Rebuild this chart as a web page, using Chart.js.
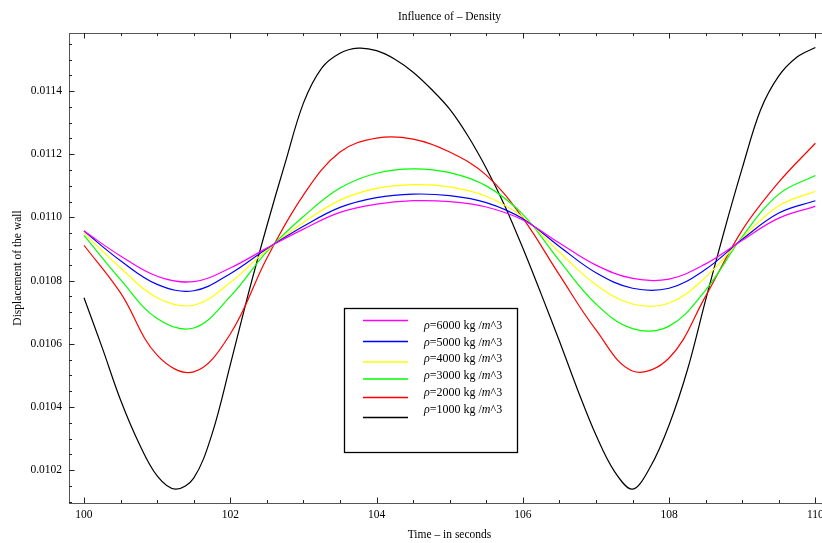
<!DOCTYPE html>
<html>
<head>
<meta charset="utf-8">
<script src="https://cdn.jsdelivr.net/npm/chart.js@4.4.1/dist/chart.umd.min.js"></script>
<style>
  html, body { margin: 0; padding: 0; background: #fff; overflow: hidden; }
  #wrap { position: relative; width: 845px; height: 543px; }
</style>
</head>
<body>
<div id="wrap"><canvas id="densityChart"></canvas></div>
<script>
// --- Dados ---
const tMain = [100, 100.5, 101, 101.5, 102, 102.5, 103, 103.5, 104, 104.5, 105,
               105.5, 106, 106.5, 107, 107.5, 108, 108.5, 109, 109.5, 110];
const tBlack = [100, 100.25, 100.5, 100.75, 101, 101.25, 101.5, 101.75, 102, 102.25,
                102.5, 102.75, 103, 103.25, 103.5, 103.75, 104, 104.25, 104.5, 104.75,
                105, 105.25, 105.5, 105.75, 106, 106.25, 106.5, 106.75, 107, 107.25,
                107.5, 107.75, 108, 108.25, 108.5, 108.75, 109, 109.25, 109.5, 109.75, 110];

const rho6000 = [0.010957, 0.010878, 0.010814, 0.010797, 0.010840, 0.010903, 0.010963, 0.011016, 0.011042, 0.011053, 0.011050,
                 0.011033, 0.010992, 0.010919, 0.010849, 0.010807, 0.010805, 0.010853, 0.010928, 0.010998, 0.011035];
const rho5000 = [0.010957, 0.010863, 0.010788, 0.010768, 0.010822, 0.010901, 0.010972, 0.011032, 0.011063, 0.011074, 0.011069,
                 0.011047, 0.010996, 0.010908, 0.010825, 0.010776, 0.010776, 0.010836, 0.010931, 0.011014, 0.011053];
const rho4000 = [0.010951, 0.010840, 0.010746, 0.010722, 0.010794, 0.010897, 0.010984, 0.011055, 0.011092, 0.011104, 0.011097,
                 0.011067, 0.011001, 0.010890, 0.010787, 0.010726, 0.010729, 0.010811, 0.010934, 0.011037, 0.011083];
const rho3000 = [0.010943, 0.010803, 0.010680, 0.010650, 0.010750, 0.010892, 0.011003, 0.011093, 0.011140, 0.011154, 0.011142,
                 0.011100, 0.011010, 0.010863, 0.010726, 0.010648, 0.010656, 0.010770, 0.010939, 0.011074, 0.011133];
const rho2000 = [0.010912, 0.010761, 0.010564, 0.010511, 0.010631, 0.010871, 0.011071, 0.011207, 0.011251, 0.011248, 0.011207,
                 0.011134, 0.010998, 0.010818, 0.010644, 0.010514, 0.010555, 0.010751, 0.010960, 0.011112, 0.011235];
const rho1000 = [0.010746, 0.010587, 0.010422, 0.010286, 0.010182, 0.010140, 0.010175, 0.010314, 0.010533, 0.010761,
                 0.010973, 0.011172, 0.011362, 0.011473, 0.011520, 0.011536, 0.011528, 0.011501, 0.011460, 0.011406,
                 0.011343, 0.011258, 0.011156, 0.011039, 0.010903, 0.010758, 0.010609, 0.010454, 0.010311, 0.010197,
                 0.010140, 0.010213, 0.010343, 0.010517, 0.010739, 0.010954, 0.011156, 0.011340, 0.011448, 0.011508, 0.011538];

const densities = [6000, 5000, 4000, 3000, 2000, 1000];
const colors = ['#ff00ff', '#0000ff', '#ffff00', '#00ff00', '#ff0000', '#000000'];

const xTicks = [100, 102, 104, 106, 108, 110];
const yTicks = [0.0102, 0.0104, 0.0106, 0.0108, 0.0110, 0.0112, 0.0114];
const X_MINOR = 0.5;
const Y_MINOR = 0.00005;

const FONT = 'Liberation Serif, Times New Roman, serif';

function pts(ts, vs) {
    return ts.map((t, i) => ({ x: t, y: vs[i] }));
}

// --- Moldura com ticks para dentro (estilo Mathematica) ---
const frameTicks = {
    id: 'frameTicks',
    afterDatasetsDraw(chart) {
        const { ctx, chartArea: a, scales: { x, y } } = chart;
        ctx.save();
        ctx.strokeStyle = '#555';
        ctx.lineWidth = 1;
        ctx.strokeRect(a.left + 0.5, a.top + 0.5, a.right - a.left, a.bottom - a.top);
        ctx.strokeStyle = '#222';
        ctx.beginPath();
        for (let v = Math.ceil(x.min / X_MINOR) * X_MINOR; v <= x.max + 1e-9; v += X_MINOR) {
            const px = Math.round(x.getPixelForValue(v)) + 0.5;
            const major = Math.abs(v / 2 - Math.round(v / 2)) < 1e-6;
            const len = major ? 5.5 : 3;
            ctx.moveTo(px, a.bottom); ctx.lineTo(px, a.bottom - len);
            ctx.moveTo(px, a.top); ctx.lineTo(px, a.top + len);
        }
        for (let k = Math.ceil(y.min / Y_MINOR); k * Y_MINOR <= y.max; k++) {
            const v = k * Y_MINOR;
            const py = Math.round(y.getPixelForValue(v)) + 0.5;
            const major = k % 4 === 0;
            const len = major ? 5.5 : 3;
            ctx.moveTo(a.left, py); ctx.lineTo(a.left + len, py);
            ctx.moveTo(a.right, py); ctx.lineTo(a.right - len, py);
        }
        ctx.stroke();
        ctx.restore();
    }
};

// --- Legenda em caixa ---
const boxLegend = {
    id: 'boxLegend',
    afterDraw(chart) {
        const ctx = chart.ctx;
        const box = { left: 344, top: 308, right: 517, bottom: 452 };
        const lineY = [320.5, 341.5, 362, 379, 397.5, 417.5];
        const textY = [326, 343, 359, 376, 393, 409.5];
        ctx.save();
        ctx.fillStyle = '#fff';
        ctx.fillRect(box.left, box.top, box.right - box.left, box.bottom - box.top);
        ctx.strokeStyle = '#000';
        ctx.lineWidth = 1.3;
        ctx.strokeRect(box.left + 0.5, box.top + 0.5, box.right - box.left, box.bottom - box.top);
        chart.data.datasets.forEach((ds, i) => {
            ctx.strokeStyle = ds.borderColor;
            ctx.lineWidth = 1.3;
            ctx.beginPath();
            ctx.moveTo(363, lineY[i]);
            ctx.lineTo(408, lineY[i]);
            ctx.stroke();
            const parts = [
                ['italic', '\u03c1'],
                ['normal', '=' + densities[i] + ' kg /'],
                ['italic', 'm'],
                ['normal', '^3']
            ];
            let tx = 424;
            ctx.fillStyle = '#000';
            ctx.textBaseline = 'middle';
            parts.forEach(([style, s]) => {
                ctx.font = style + ' 12px ' + FONT;
                ctx.fillText(s, tx, textY[i]);
                tx += ctx.measureText(s).width;
            });
        });
        ctx.restore();
    }
};

function initChart() {
    const ctx = document.getElementById('densityChart').getContext('2d');
    const series = [rho6000, rho5000, rho4000, rho3000, rho2000];
    const datasets = series.map((vals, i) => ({
        label: '\u03c1=' + densities[i] + ' kg/m^3',
        data: pts(tMain, vals),
        borderColor: colors[i],
        borderWidth: 1.2,
        pointRadius: 0,
        tension: 0.38,
        fill: false
    }));
    datasets.push({
        label: '\u03c1=1000 kg/m^3',
        data: pts(tBlack, rho1000),
        borderColor: colors[5],
        borderWidth: 1.2,
        pointRadius: 0,
        tension: 0.35,
        fill: false
    });

    new Chart(ctx, {
        type: 'line',
        data: { datasets },
        options: {
            responsive: true,
            maintainAspectRatio: false,
            animation: false,
            layout: { padding: { left: 0, right: 15, top: 0, bottom: 0 } },
            scales: {
                x: {
                    type: 'linear',
                    min: 99.795,
                    max: 110.2,
                    afterBuildTicks: (s) => { s.ticks = xTicks.map(v => ({ value: v })); },
                    afterFit: (s) => { s.height = 40; },
                    grid: { display: false, drawTicks: false },
                    border: { display: false },
                    ticks: {
                        color: '#000',
                        padding: 5,
                        maxRotation: 0,
                        autoSkip: false,
                        font: { family: FONT, size: 11.5 },
                        callback: (v) => String(v)
                    },
                    title: {
                        display: true,
                        text: 'Time \u2013 in seconds',
                        color: '#000',
                        font: { family: FONT, size: 11.5 },
                        padding: { top: 0, bottom: 1.5 }
                    }
                },
                y: {
                    type: 'linear',
                    min: 0.010096,
                    max: 0.011584,
                    afterBuildTicks: (s) => { s.ticks = yTicks.map(v => ({ value: v })); },
                    afterFit: (s) => { s.width = 69; },
                    grid: { display: false, drawTicks: false },
                    border: { display: false },
                    ticks: {
                        color: '#000',
                        padding: 7,
                        autoSkip: false,
                        font: { family: FONT, size: 11.5 },
                        callback: (v) => v.toFixed(4)
                    },
                    title: {
                        display: true,
                        text: 'Displacement of the wall',
                        color: '#000',
                        font: { family: FONT, size: 11.5 },
                        padding: { top: 11, bottom: 0 }
                    }
                }
            },
            plugins: {
                legend: { display: false },
                tooltip: { enabled: false },
                title: {
                    display: true,
                    fullSize: false,
                    text: 'Influence of \u2013 Density',
                    color: '#000',
                    font: { family: FONT, size: 11.5, weight: 'normal' },
                    padding: { top: 10, bottom: 9.2 }
                }
            }
        },
        plugins: [frameTicks, boxLegend]
    });
}

document.addEventListener('DOMContentLoaded', initChart);
</script>
</body>
</html>
